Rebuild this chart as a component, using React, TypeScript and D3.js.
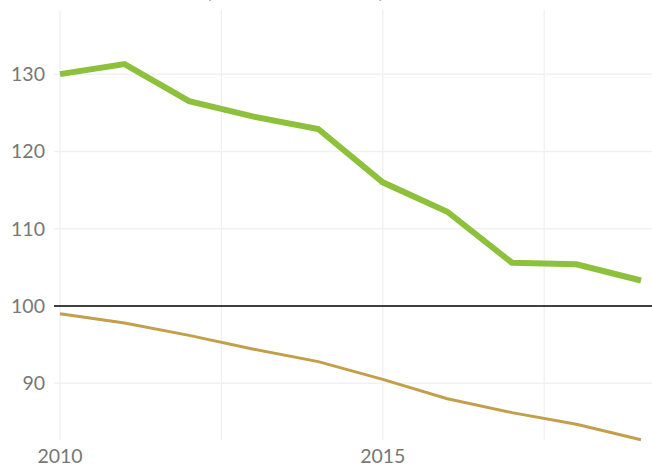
import React from "react";
import * as d3 from "d3";

const years = [2010, 2011, 2012, 2013, 2014, 2015, 2016, 2017, 2018, 2019];
const greenSeries = [130.0, 131.3, 126.5, 124.5, 122.9, 116.0, 112.2, 105.6, 105.4, 103.3];
const tanSeries = [99.0, 97.8, 96.2, 94.4, 92.8, 90.5, 88.0, 86.2, 84.7, 82.7];
const yTicks = [90, 100, 110, 120, 130];
const xTickLabels = [2010, 2015];
const xGrid = [2010, 2012.5, 2015, 2017.5];
const titleText = "(2010 = 100)";

const W = 652;
const H = 465;

export default function App() {
  const x = d3.scaleLinear().domain([2010, 2019]).range([60, 641]);
  const y = d3.scaleLinear().domain([82.66, 138.3]).range([440, 10]);
  const line = d3
    .line<number>()
    .x((_, i) => x(years[i]))
    .y((d) => y(d));
  const font = "Lato, 'Open Sans', sans-serif";
  return (
    <svg
      width={W}
      height={H}
      style={{ position: "absolute", left: 0, top: 0, background: "#fff" }}
    >
      <text
        x={206}
        y={-2.5}
        fontFamily={font}
        fontSize={20}
        fill="#555"
        textLength={178}
        lengthAdjust="spacing"
      >
        {titleText}
      </text>
      {xGrid.map((g) => (
        <line
          key={"xg" + g}
          x1={x(g)}
          x2={x(g)}
          y1={10}
          y2={440}
          stroke="#efefef"
          strokeWidth={1.2}
        />
      ))}
      {yTicks.map((t) => (
        <line
          key={"yg" + t}
          x1={54}
          x2={W}
          y1={y(t)}
          y2={y(t)}
          stroke={t === 100 ? "#000" : "#f1f1f1"}
          strokeWidth={t === 100 ? 1.4 : 1.5}
        />
      ))}
      {yTicks.map((t) => (
        <text
          key={"yl" + t}
          x={45}
          y={y(t)}
          dy="0.36em"
          textAnchor="end"
          fontFamily={font}
          fontSize={19.5}
          fill="#777"
        >
          {t}
        </text>
      ))}
      {xTickLabels.map((t) => (
        <text
          key={"xl" + t}
          x={x(t)}
          y={463}
          textAnchor="middle"
          fontFamily={font}
          fontSize={19.5}
          fill="#777"
        >
          {t}
        </text>
      ))}
      <path
        d={line(tanSeries) || ""}
        fill="none"
        stroke="#c39f4b"
        strokeWidth={3}
        strokeLinejoin="round"
      />
      <path
        d={line(greenSeries) || ""}
        fill="none"
        stroke="#8dc13b"
        strokeWidth={6}
        strokeLinejoin="miter"
      />
    </svg>
  );
}
